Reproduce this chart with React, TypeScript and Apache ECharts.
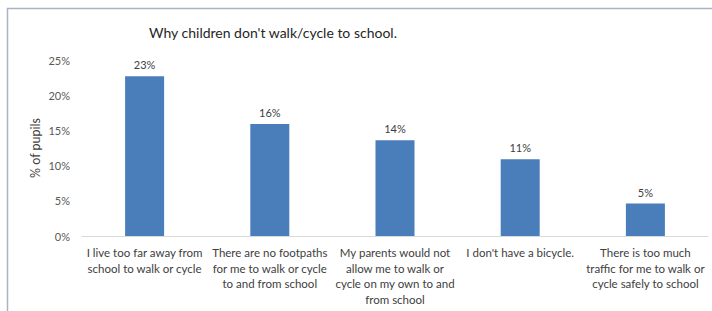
import React, { useEffect, useRef } from "react";
import * as echarts from "echarts";

const categories = [
  "I live too far away from\nschool to walk or cycle",
  "There are no footpaths\nfor me to walk or cycle\nto and from school",
  "My parents would not\nallow me to walk or\ncycle on my own to and\nfrom school",
  "I don't have a bicycle.",
  "There is too much\ntraffic for me to walk or\ncycle safely to school",
];
const values = [22.7, 15.9, 13.6, 10.9, 4.6];
const titleText = "Why children don't walk/cycle to school.";
const yAxisName = "% of pupils";

export default function App() {
  const ref = useRef<HTMLDivElement>(null);
  useEffect(() => {
    if (!ref.current) return;
    const chart = echarts.init(ref.current, null, { renderer: "svg" });
    const font = "Lato";
    chart.setOption({
      animation: false,
      backgroundColor: "#ffffff",
      textStyle: { fontFamily: font },
      title: {
        text: titleText,
        left: 144,
        top: 20,
        textStyle: { fontFamily: font, fontSize: 14, fontWeight: "normal", color: "#262626" },
      },
      graphic: [
        {
          type: "rect",
          shape: { x: 7.5, y: 8.5, width: 730, height: 330 },
          style: { fill: "none", stroke: "#a9b3c1", lineWidth: 1.5 },
          silent: true,
        },
      ],
      grid: { left: 82, right: 4, top: 60, bottom: 75, containLabel: false },
      xAxis: {
        type: "category",
        data: categories,
        axisLine: { lineStyle: { color: "#d9d9d9", width: 1 } },
        axisTick: { show: false },
        axisLabel: {
          interval: 0,
          color: "#404040",
          fontSize: 11.5,
          lineHeight: 15.5,
          margin: 9,
          fontFamily: font,
        },
      },
      yAxis: {
        type: "value",
        min: 0,
        max: 25,
        interval: 5,
        name: yAxisName,
        nameLocation: "middle",
        nameGap: 40,
        nameMoveOverlap: false,
        nameTextStyle: { color: "#404040", fontSize: 12.5, fontFamily: font },
        axisLine: { show: false },
        axisTick: { show: false },
        splitLine: { show: false },
        axisLabel: {
          formatter: (v: number) => `${v}%`,
          color: "#595959",
          fontSize: 11,
          margin: 12,
          fontFamily: font,
        },
      },
      series: [
        {
          type: "bar",
          data: values,
          barWidth: 39,
          itemStyle: { color: "#4a7ebb" },
          label: {
            show: true,
            position: "top",
            distance: 6,
            formatter: (p: any) => `${Math.round(p.value)}%`,
            color: "#404040",
            fontSize: 11,
            fontFamily: font,
          },
        },
      ],
    });
    return () => chart.dispose();
  }, []);
  return (
    <div
      ref={ref}
      style={{ position: "fixed", left: 0, top: 0, width: 712, height: 311 }}
    />
  );
}
